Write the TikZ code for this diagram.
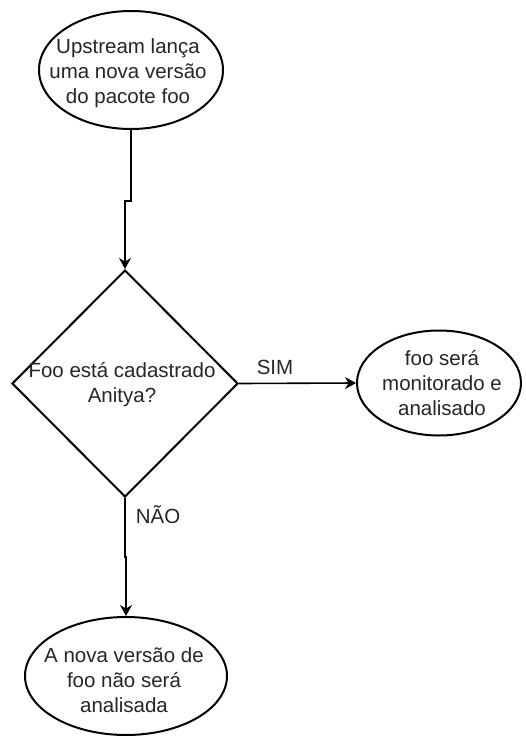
\documentclass[tikz,border=0pt]{standalone}
\usepackage{fontspec}
\setmainfont{Liberation Sans}
\usetikzlibrary{shapes.geometric,arrows.meta}
\begin{document}
\begin{tikzpicture}[x=1pt,y=-1pt,
  shp/.style={draw=black,line width=2pt,inner sep=0pt,fill=white},
  txt/.style={font=\fontsize{20.5}{25}\selectfont,text=black!85,align=center,inner sep=0pt},
  conn/.style={draw=black,line width=1.6pt,-{Stealth[length=11pt,width=12pt]}}]
\useasboundingbox (0,0) rectangle (526,736);
% shapes
\node[shp,ellipse,minimum width=184pt,minimum height=118pt] (start) at (131,70) {};
\node[shp,diamond,minimum width=226pt,minimum height=227pt,aspect=1] (dec) at (125,383.5) {};
\node[shp,ellipse,minimum width=164pt,minimum height=105pt] (yes) at (439,383) {};
\node[shp,ellipse,minimum width=202pt,minimum height=118pt] (no) at (126,676) {};
% texts
\node[txt] (starttxt) at (128,73) {Upstream lança\\uma nova versão\\do pacote foo};
\node[txt] (dectxt) at (122,385) {Foo está cadastrado\\Anitya?};
\node[txt] (yestxt) at (442,383) {foo será\\monitorado e\\analisado};
\node[txt] (notxt) at (124,680) {A nova versão de\\foo não será\\analisada};
% connectors
\coordinate (j1) at (0,201);
\coordinate (j2) at (0,557);
\draw[conn] (start.south) -- (start.south |- j1) -- (dec.north |- j1) -- (dec.north);
\draw[conn] (dec.east) -- (yes.west);
\draw[conn] (dec.south) -- (dec.south |- j2) -- (no.north |- j2) -- (no.north);
% labels
\node[txt] (simlbl) at (275,367) {SIM};
\node[txt] (naolbl) at (158,515) {NÃO};
\end{tikzpicture}
\end{document}
